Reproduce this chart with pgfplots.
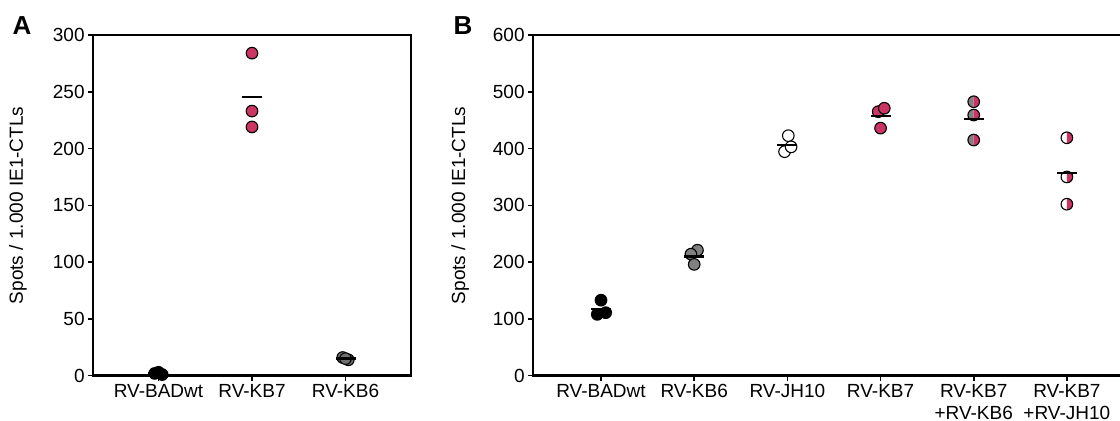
\documentclass[border=0pt]{standalone}
\usepackage{fontspec}
\setmainfont{Liberation Sans}
\usepackage{pgfplots}
\pgfplotsset{compat=1.18}
\definecolor{kbpink}{RGB}{204,52,100}
\definecolor{kbgray}{RGB}{128,128,128}
\definecolor{kbgrayA}{RGB}{112,112,112}

\pgfdeclareplotmark{halfgraypink}{%
  \pgfpathmoveto{\pgfqpoint{0pt}{\pgfplotmarksize}}%
  \pgfpatharc{90}{270}{\pgfplotmarksize}%
  \pgfpathclose
  \pgfsetfillcolor{kbgray}\pgfusepath{fill}%
  \pgfpathmoveto{\pgfqpoint{0pt}{-\pgfplotmarksize}}%
  \pgfpatharc{-90}{90}{\pgfplotmarksize}%
  \pgfpathclose
  \pgfsetfillcolor{kbpink}\pgfusepath{fill}%
  \pgfpathcircle{\pgfpointorigin}{\pgfplotmarksize}%
  \pgfusepath{stroke}%
}
\pgfdeclareplotmark{halfwhitepink}{%
  \pgfpathmoveto{\pgfqpoint{0pt}{\pgfplotmarksize}}%
  \pgfpatharc{90}{270}{\pgfplotmarksize}%
  \pgfpathclose
  \pgfsetfillcolor{white}\pgfusepath{fill}%
  \pgfpathmoveto{\pgfqpoint{0pt}{-\pgfplotmarksize}}%
  \pgfpatharc{-90}{90}{\pgfplotmarksize}%
  \pgfpathclose
  \pgfsetfillcolor{kbpink}\pgfusepath{fill}%
  \pgfpathcircle{\pgfpointorigin}{\pgfplotmarksize}%
  \pgfusepath{stroke}%
}

\pgfplotsset{
  myaxis/.style={
    scale only axis, clip=false, anchor=south west,
    ymin=0,
    tick align=outside, xtick pos=bottom, ytick pos=left,
    major tick length=2.5pt,
    tick style={line width=0.8pt, black},
    axis line style={line width=0.6pt, black},
    tick label style={font=\fontsize{9.5}{11}\selectfont},
    label style={font=\fontsize{9.5}{11}\selectfont},
    yticklabel style={inner xsep=1.5pt},
    xticklabel style={align=center, inner ysep=1.5pt},
    /pgf/number format/assume math mode=true,
    minor tick num=0,
  },
  dots/.style={only marks, mark=*, mark size=2.9pt,
    mark options={draw=black, line width=0.55pt, fill=#1}},
  means/.style={only marks, mark=-, mark size=5pt,
    mark options={draw=black, line width=1.25pt}},
}

\begin{document}
\begin{tikzpicture}
\useasboundingbox (0,0) rectangle (560pt,210.5pt);

% Panel A
\begin{axis}[myaxis,
  at={(46.5pt,22.65pt)}, width=159pt, height=170.35pt,
  xmin=-0.7, xmax=2.7, ymax=300,
  ytick={0,50,100,150,200,250,300},
  xtick={0,1,2}, xticklabels={RV-BADwt,RV-KB7,RV-KB6},
  ylabel={Spots / 1.000 IE1-CTLs},
  ylabel style={at={(axis description cs:-0.236,0.5)}, anchor=center},
]
\addplot[dots=black] coordinates {(-0.04,2) (0.04,1) (0,3)};
\addplot[dots=kbpink] coordinates {(1,284) (1,233) (1,219)};
\addplot[dots=kbgrayA] coordinates {(1.97,16) (2.03,14) (2,15)};
\addplot[means] coordinates {(0,2) (1,245.3) (2,15)};
\draw[line width=1.2pt, line cap=rect] (rel axis cs:0,1) -- (rel axis cs:0,0) -- (rel axis cs:1,0);
\end{axis}

% Panel B
\begin{axis}[myaxis,
  at={(266.5pt,22.65pt)}, width=293.5pt, height=170.35pt,
  axis x line*=box, axis y line*=left,
  xmin=-0.73, xmax=5.57, ymax=600,
  ytick={0,100,200,300,400,500,600},
  xtick={0,1,2,3,4,5},
  xticklabels={RV-BADwt,RV-KB6,RV-JH10,RV-KB7,{RV-KB7\\+RV-KB6},{RV-KB7\\+RV-JH10}},
  ylabel={Spots / 1.000 IE1-CTLs},
  ylabel style={at={(axis description cs:-0.124,0.5)}, anchor=center},
]
\addplot[dots=black] coordinates {(-0.04,108) (0.05,111) (0,133)};
\addplot[dots=kbgray] coordinates {(1.035,221) (0.965,214) (1,196)};
\addplot[dots=white] coordinates {(2.01,422.7) (1.97,394.5) (2.04,403)};
\addplot[dots=kbpink] coordinates {(2.975,465) (3.04,471) (3,436)};
\addplot[only marks, mark=halfgraypink, mark size=2.9pt,
  mark options={draw=black, line width=0.55pt}] coordinates {(4,482.5) (4,459) (4,415)};
\addplot[only marks, mark=halfwhitepink, mark size=2.9pt,
  mark options={draw=black, line width=0.55pt}] coordinates {(5,419) (5,350) (5,302)};
\addplot[means] coordinates {(0,117.3) (1,210.3) (2,406.7) (3,457.3) (4,452.2) (5,357)};
\draw[line width=1.2pt, line cap=rect] (rel axis cs:0,1) -- (rel axis cs:0,0) -- (rel axis cs:1,0);
\end{axis}

\node[font=\fontsize{13}{15}\selectfont\bfseries] at (11pt,197.5pt) {A};
\node[font=\fontsize{13}{15}\selectfont\bfseries] at (231.5pt,197.5pt) {B};
\end{tikzpicture}
\end{document}
